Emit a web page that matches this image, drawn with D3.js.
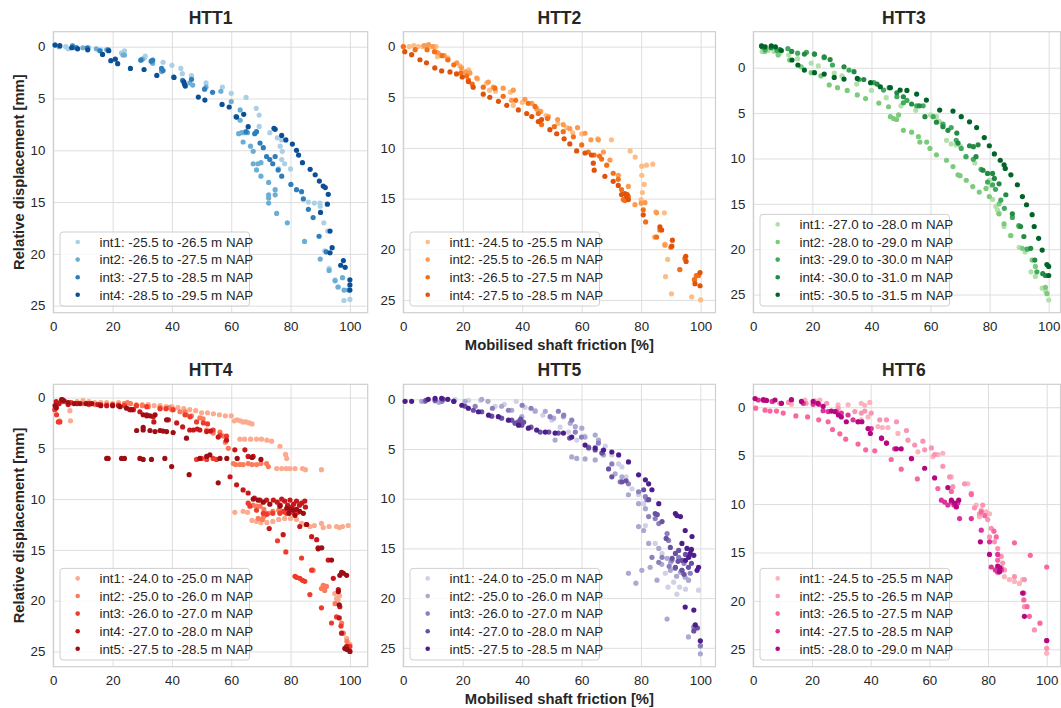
<!DOCTYPE html>
<html><head><meta charset="utf-8">
<script src="https://cdn.jsdelivr.net/npm/d3@7"></script>
<style>
body{margin:0;background:#fff;}
svg{display:block;font-family:"Liberation Sans",Arial,Helvetica,sans-serif;}
</style>
</head><body>
<svg id="chart" width="1061" height="708"></svg>
<script>
// Mobilised shaft friction [%] vs relative displacement [mm], per test and interval
const yTicks = [0, 5, 10, 15, 20, 25];
const xTicks = [0, 20, 40, 60, 80, 100];
const xLabel = "Mobilised shaft friction [%]";
const yLabel = "Relative displacement [mm]";
const titles = ["HTT1", "HTT2", "HTT3", "HTT4", "HTT5", "HTT6"];

const htt1Labels = ["int1: -25.5 to -26.5 m NAP", "int2: -26.5 to -27.5 m NAP", "int3: -27.5 to -28.5 m NAP", "int4: -28.5 to -29.5 m NAP"];
const htt2Labels = ["int1: -24.5 to -25.5 m NAP", "int2: -25.5 to -26.5 m NAP", "int3: -26.5 to -27.5 m NAP", "int4: -27.5 to -28.5 m NAP"];
const htt3Labels = ["int1: -27.0 to -28.0 m NAP", "int2: -28.0 to -29.0 m NAP", "int3: -29.0 to -30.0 m NAP", "int4: -30.0 to -31.0 m NAP", "int5: -30.5 to -31.5 m NAP"];
const htt4Labels = ["int1: -24.0 to -25.0 m NAP", "int2: -25.0 to -26.0 m NAP", "int3: -26.0 to -27.0 m NAP", "int4: -27.0 to -28.0 m NAP", "int5: -27.5 to -28.5 m NAP"];
const htt5Labels = ["int1: -24.0 to -25.0 m NAP", "int2: -25.0 to -26.0 m NAP", "int3: -26.0 to -27.0 m NAP", "int4: -27.0 to -28.0 m NAP", "int5: -27.5 to -28.5 m NAP"];
const htt6Labels = ["int1: -24.5 to -25.5 m NAP", "int2: -25.5 to -26.5 m NAP", "int3: -26.5 to -27.5 m NAP", "int4: -27.5 to -28.5 m NAP", "int5: -28.0 to -29.0 m NAP"];

// [friction %, displacement mm]
const htt1Int1 = [[0.5,-0.2],[4.2,0],[5,0.2],[8,0.1],[12,0.1],[16,0.3],[23,0.6],[24,0.4],[30.7,1.1],[31,0.9],[37,1.5],[40,1.8],[43,2.1],[43.5,2.6],[46.6,2.8],[51.5,3.5],[57,3.9],[60,4.5],[65,4.9],[68.4,5.95],[69.4,6.6],[69.4,7.7],[73,8.3],[75.5,8.8],[77,9.0],[76.5,9.6],[77.2,10.1],[77,10.9],[78,11.3],[76,11.8],[80,11.8],[86,15],[88,15.1],[89.9,15.1],[90,15.4],[91.2,17],[92.5,17.8],[91.5,19.7],[93,21.4],[95,22.5],[96,23.2],[98,24.5],[100,24.4]];
const htt1Int2 = [[2,0],[6.5,-0.1],[7.5,0.1],[10,0.1],[14.5,0.2],[18,0.3],[23.5,0.8],[24,0.8],[30,1.2],[33.5,1.6],[36.5,2.4],[40.5,2.9],[46,3.5],[47,3.7],[51.5,3.9],[56.5,4.3],[60,5.3],[63,6.1],[63,7.1],[62.5,8.4],[63.5,8.3],[64.5,8.3],[65.5,8.3],[64,9.2],[66.5,9.6],[67.4,10.1],[67.4,11.3],[69,11.3],[70,11.2],[68.5,11.9],[70,12.5],[72.6,13.1],[72.6,14.3],[72.6,14.6],[72.6,15.1],[74.8,13.8],[74.8,14.3],[75.3,16.1],[78.9,17],[84.7,18.8],[90,20.5],[93,21.6],[95,22.6],[97.5,22.3],[96,23.2],[98,23.5],[99.4,23.5]];
const htt1Int3 = [[6.5,0],[7.8,0.1],[11.5,0.1],[15.7,0.4],[18.5,0.3],[29.5,1.3],[33,1.4],[33.5,1.3],[36.5,2.1],[37,2.3],[43.6,3.25],[46.6,3.15],[51,4.1],[53.7,4.4],[61.6,6.75],[65,8.2],[67.9,8.4],[68.5,8.2],[69.7,9.3],[70.8,9.75],[71.9,10.6],[73,10.9],[74.8,10.6],[74,11.3],[75.8,11.9],[77,12.5],[80.1,13.3],[82,13.8],[83.7,14],[84.3,14.7],[86,15.7],[87.6,16.5],[89.6,18.3],[92,19.8]];
const htt1Int4 = [[0.6,-0.16],[2.2,-0.1],[6.2,0.1],[8.2,0.2],[11.6,0.3],[16.6,0.74],[18.7,0.39],[19.4,1.35],[20.9,1.2],[21.7,1.64],[26,2.1],[30.6,2.2],[34.9,2.77],[40.7,2.96],[44,3.38],[44.2,3.6],[44.5,3.8],[48.9,4.86],[51.1,5.15],[56.9,5.57],[59.3,5.82],[61.8,6.79],[64.2,6.53],[65.7,7.72],[74.4,7.88],[74.8,7.98],[77,8.56],[78.4,9.0],[80.6,9.4],[82,10.0],[82.7,10.46],[84,11.2],[86.6,11.84],[88.3,12.36],[89.7,12.97],[91,13.45],[91.7,13.6],[92.7,14.25],[92.4,15.2],[90.1,16.0],[93.3,17.8],[94,19.4],[93.3,19.9],[97.8,20.65],[98.4,21.3],[96.9,21.1],[100,22.5],[100,23.0],[100,23.5]];

const htt2Int1 = [[0,0],[2,0],[3.5,-0.1],[5,0],[6.5,0],[8,-0.1],[9.5,0],[11,0],[11.5,1.0],[12,0.7],[15,1.1],[19,1.9],[22,2.3],[25,3.2],[28,3.6],[29,4.3],[31,4.4],[36,4.5],[37,5.8],[40,5.5],[45,6.2],[48,6.8],[52,7.6],[55,8.0],[57,8.5],[60,8.6],[65.4,9.1],[70,9.2],[76.3,10.3],[78,10.9],[80.2,11.8],[81.8,11.7],[83.9,11.6],[80.2,12.7],[81,13.6],[80.4,14.4],[80,15.1],[84.9,16.3],[87.8,16.4],[88,19.5],[88.9,21],[88.2,22.7],[90.2,24.4],[97,24.7],[100,25]];
const htt2Int2 = [[7,-0.1],[8.5,-0.2],[10,0],[11.5,0.6],[13.8,0.9],[15,1.3],[18,1.6],[19.6,2.1],[21,2.5],[22.4,2.6],[24.7,3.1],[28.6,3.5],[30.3,4.0],[33.6,4.1],[37,4.3],[36.4,5.3],[40.9,5.2],[43.2,5.6],[44.8,6.1],[46.2,6.4],[48.8,6.9],[51.9,7.2],[53.8,7.7],[56,8.1],[58.6,8.0],[61.1,8.55],[63.1,9.2],[65.6,9.2],[67.3,10.4],[69.5,11.2],[72.3,12.7],[75.7,13.8],[77.9,15.6],[80,15.45],[81.3,15.4],[85.2,16.4],[84.6,18.8],[88,19.6],[93,22],[98,23],[98.5,22.6]];
const htt2Int3 = [[0,0],[4,0.3],[8,0.3],[10.5,0.5],[13,0.9],[15,1.3],[17,1.8],[19.4,2.6],[21.3,2.9],[21.9,3.3],[23.2,3.7],[26.9,4.0],[30.8,4.1],[33.6,4.9],[37.8,5.3],[42,5.6],[44.3,5.9],[45.4,6.6],[46,7.4],[46.5,7.7],[48.5,7.1],[50.8,7.9],[53.8,8.4],[57.2,8.9],[60,9.7],[62.2,10.4],[64.2,10.7],[66,10.8],[66.7,11.1],[68.4,11.7],[70.6,12.5],[72.3,13.1],[73.4,14.1],[74,15.1],[75.7,14.8],[74.5,15.2],[80.7,16.1],[81.5,17.3],[85.2,18.8],[86.3,18.1],[90,19.8],[93,22],[94.7,20.9],[97.9,23],[98.7,22.6],[99.3,22.6]];
const htt2Int4 = [[0.5,0.5],[2.8,0.8],[5.6,1.3],[7.8,1.6],[10.6,2.1],[12.9,2.4],[15.7,2.5],[17.9,2.7],[19.8,3.0],[21.9,3.45],[23.5,4.0],[26.9,4.7],[29.1,5.0],[32,5.4],[34.8,5.8],[38.7,6.25],[41.5,6.6],[43.2,6.9],[45.4,7.4],[46.5,7.2],[49.3,8.2],[51.6,8.6],[54.1,9.1],[56,9.6],[58.3,10.3],[61.1,10.5],[63.3,10.7],[63.9,11.5],[64.2,12.2],[67.8,12.8],[70.6,13.3],[72.3,13.7],[73.4,14.6],[74.5,14.5],[75.1,14.8],[75.7,15.1],[75.3,14.6],[80.7,16.6],[86.3,17.8],[86.9,18.1],[90.5,19.1],[90.3,19.7],[95,20.7],[95.1,21.2],[99.8,22.3],[99.8,23.6],[98.1,23.4]];

const htt3Int1 = [[3,-1.8],[5,-1.9],[7,-1.8],[9,-1.6],[12,-1.4],[15,-1.0],[19.6,-0.5],[22,-0.2],[27.4,0.6],[30,0.9],[35,1.8],[40,2.5],[45,3.3],[50,4.2],[55,4.7],[60,5.2],[62,5.4],[63,5.9],[64.2,6.3],[65.4,8.0],[67,8.4],[68.7,8.5],[70,8.6],[72,9.8],[75,10.5],[77.9,11.3],[79.9,12.4],[80.5,13.0],[81,14.5],[82.1,15.3],[82.7,15.7],[83,16],[84.9,17.5],[87,18.5],[90,19.8],[92,20.3],[94,22.5],[95.5,23],[97.8,24.3],[99,24.6],[100,25.6]];
const htt3Int2 = [[3.9,-1.8],[8.4,-1.4],[12.3,-0.85],[16.2,-0.1],[19.6,0.55],[22.9,0.9],[25.7,1.9],[28.5,2.2],[31.8,2.5],[35.2,3.0],[38,3.4],[42.5,3.9],[45.8,4.3],[46.4,5.4],[47.5,5.6],[49.2,5.2],[48.5,5.7],[50.8,6.9],[53.6,7.1],[55.9,7.6],[56.4,8.2],[58.7,8.2],[59.8,8.9],[62,9.6],[65.4,10.2],[67.6,10.9],[69.3,11.8],[70,11.9],[72.1,12.4],[74.3,13.1],[76.5,13.7],[78.8,13.3],[79.9,14.2],[83.2,15],[83.2,16.1],[84.9,17.2],[87.2,18.5],[89.9,17.5],[91.1,19.9],[94.4,21.2],[95.5,21.9],[98.9,24.2],[99.4,24.9]];
const htt3Int3 = [[4,-2.0],[8,-1.9],[11.7,-2.1],[15,-1.6],[18,-1.7],[20.7,-1.5],[24,-1.1],[26.8,-0.3],[32.4,0.26],[35.8,1.3],[40.8,1.65],[44.1,2.46],[48.6,3.2],[50.8,3.86],[52,3.6],[55.3,4.2],[57.5,4.2],[60.9,5.4],[64.2,6.2],[67,6.6],[68.7,8],[70.4,8.9],[72,9.8],[74.5,10.1],[77.1,11.2],[79.3,12.6],[81,12.9],[82,13.4],[83.8,14.6],[85,15.5],[87.7,16.5],[89.9,17.4],[92.7,20],[96,22.5]];
const htt3Int4 = [[3,-2.3],[6,-2.2],[9,-2.0],[13,-1.8],[17.3,-1.5],[20.7,-1.5],[24,-1.2],[26,-0.9],[30.7,-0.1],[34.1,0.44],[37.4,1.3],[41.9,1.8],[46,2.2],[48.6,2.76],[50.8,3.2],[53.6,4.0],[56.2,4.2],[58.1,5.4],[62,6.0],[64.2,6.5],[65.9,6.9],[68.9,7.2],[69.3,8.3],[73.2,8.6],[74.5,8.7],[76.1,8.5],[75.4,9.8],[77.7,11.3],[79.3,11.65],[81,11.65],[81.6,12.2],[83.2,12.8],[85.5,14],[87.7,16.1],[90.5,17.5],[91.6,18.6],[93.9,19.9],[95.3,21.2],[98,22.7],[98.9,22.9]];
const htt3Int5 = [[2.8,-2.4],[4,-2.3],[6.1,-2.4],[7.5,-2.3],[9.5,-1.9],[13.1,-0.85],[15.1,-0.3],[17.3,0.26],[20.7,0.55],[24,0.7],[27.4,1.07],[30.7,1.25],[35.2,1.18],[39.7,1.65],[43,2.1],[46.4,2.2],[49.7,2.46],[52,2.5],[55.3,2.9],[58.6,3.57],[63.1,4.67],[67.6,4.78],[70.4,5.4],[73.2,5.96],[75.6,6.6],[78.2,7.7],[79.9,8.6],[81.6,9.5],[83.6,10.2],[84.9,10.7],[85.3,11.1],[87.2,11.8],[89.4,12.9],[91.1,14.2],[92.5,15.1],[94.4,16.2],[95.1,17.5],[96.6,18.8],[97.8,20.1],[99.4,21.7],[100,21.9],[100,22.9]];

const htt4Int1 = [[1,0.5],[3,0.3],[5,0.5],[5.6,1.3],[2.2,2.3],[5.8,2.3],[8,0.4],[10,0.3],[12,0.4],[14,0.5],[16,0.5],[18,0.5],[20,0.6],[22,0.5],[24,0.6],[26,0.6],[28,0.7],[30,0.7],[32,0.7],[34,0.8],[36,0.8],[38,0.9],[40,0.9],[42,1.0],[44,1.1],[46,1.2],[48,1.3],[50,1.5],[52,1.5],[54,1.6],[56,1.7],[58,1.8],[60,1.8],[62,2.2],[61,2.3],[63,2.3],[64,2.4],[65,2.4],[66,2.5],[67,2.6],[62.9,4.1],[64.5,4.1],[66.5,4.1],[68.5,4.1],[70.2,4.1],[72,4.2],[73.6,4.3],[76.4,4.8],[78.3,5.6],[78.7,6.0],[75.3,7.0],[77,7.0],[78.5,7.0],[79.8,7.0],[81.5,7.0],[84,7.0],[85,7.1],[90.4,7.1],[61.2,11.3],[64,11.2],[65.5,11.3],[67,12.1],[68.5,12.2],[70,12.3],[72,12.3],[74,12.2],[76,12.0],[78,11.9],[80,11.9],[82,12.0],[83.7,12.4],[85,12.5],[86.5,12.7],[88,12.6],[90.4,12.4],[91,12.8],[93,12.7],[95.5,12.7],[96.5,12.8],[97.5,12.7],[99.4,12.6],[94.9,19.3],[95.5,19.8],[96,19.9],[96.5,19.5],[98.9,23.7],[100,24.3],[100,25]];
const htt4Int2 = [[1,1],[4,0.4],[6,0.5],[10,0.6],[14,0.7],[18,0.7],[22,0.7],[24,0.6],[25,0.5],[26,0.6],[28,0.8],[30,0.8],[32,0.9],[36,1.0],[39,1.0],[40,1.2],[42.7,1.4],[44.4,1.4],[44.9,1.7],[46.6,1.8],[49.4,2.0],[50.5,2.1],[51.7,3.2],[53.9,3.5],[56.2,3.4],[57.3,3.8],[58,4.4],[59,5.0],[60.7,6.5],[61.5,6.6],[62.9,6.6],[64,6.6],[65.7,6.5],[67,6.6],[68.5,6.6],[70,6.5],[71.9,6.5],[72.5,6.8],[67.4,10.6],[68.5,10.7],[69.7,10.7],[71,11.0],[71.9,11.4],[69.1,11.9],[70.5,12.0],[71,11.7],[72.5,11.4],[74,11.2],[76,11.1],[78,11.3],[87.6,17],[91.6,18.6],[90.4,18.8],[91,18.5],[92.1,18.6],[91.5,19],[95,20.3],[97.2,22.2],[97.8,23.2],[99,24]];
const htt4Int3 = [[1.1,1.7],[1.7,2.4],[2.2,2.4],[0.5,1.2],[3.4,0.4],[6,0.5],[8,0.6],[12,0.7],[16,0.7],[20,0.7],[24,0.8],[28,0.8],[31.5,0.9],[36,1.1],[38,1.1],[40.4,1.2],[44.4,1.7],[46.1,1.9],[48.3,2.4],[50.6,2.5],[52,2.6],[53.9,3.2],[56.2,3.7],[58.4,3.8],[48.3,6.1],[50,6.0],[51.7,6.1],[53.9,6.0],[55,6.1],[65.7,10.4],[66.3,10.7],[68.5,11.1],[70.8,11.4],[72,11.5],[74,11.4],[76.4,11.4],[78.7,11.4],[81.2,11.4],[82.5,11.3],[79.5,11.1],[77.5,11.2],[75.6,14.1],[78.4,15.2],[83.7,15.8],[81.5,17.6],[82,17.7],[83.1,17.8],[84,18],[84.8,18.1],[87.1,17],[86.5,19.4],[90.4,20.7],[93.8,22.2],[95.5,21.6],[97,22.5],[100,24.5]];
const htt4Int4 = [[1,0.4],[2,0.6],[3,0.2],[5,0.7],[8,0.6],[12,0.6],[15,0.7],[18,0.8],[22,0.8],[25.8,1.2],[27,1.2],[29.2,1.4],[31.5,1.7],[33.7,1.9],[33.9,2.4],[38.8,2.2],[41.6,2.5],[43.6,2.9],[46,3.2],[47.2,3.2],[48.5,3.1],[49.4,3.2],[51.7,3.35],[53,3.3],[55.6,3.9],[58.4,4.2],[61.2,5.15],[64.6,5.15],[65.7,5.8],[67.4,5.8],[59.6,7.8],[61.8,8.6],[64,9.1],[65.7,9.4],[67.8,9.9],[69.7,10.1],[71.9,10.1],[74.2,10.1],[75.5,10.3],[77,10.0],[78,10.2],[79.8,10.1],[81,10.5],[82,10.2],[83,10.6],[83.7,10.4],[84.8,10.2],[85,10.8],[80.5,10.8],[79,10.6],[76.5,10.6],[72.8,12.9],[77.5,13.5],[83.1,12.7],[85.4,12.5],[87.1,13.7],[88.8,14],[89.3,14.8],[92.7,16],[94.4,17.8],[96.1,18.9],[96.6,20.6],[96.4,21.7],[97.2,23.2],[98.9,24.5]];
const htt4Int5 = [[0.6,0.8],[1,1.0],[2.8,0.2],[3.5,0.3],[5,0.5],[7,0.6],[9,0.6],[11,0.6],[13,0.6],[16,0.8],[20,0.8],[22.5,0.9],[24.7,1.05],[26.4,1.2],[30.3,1.7],[31.5,1.8],[32.6,1.8],[34.3,1.7],[38.2,2.2],[44.9,4],[28.1,3.25],[30.3,3.2],[32.6,3.25],[34.3,3.35],[36,3.25],[37,3.3],[38.2,3.35],[40.4,3.45],[30.3,2.95],[18,6],[18.5,6],[23,6],[24,6],[29.2,6],[30.3,6.1],[33.1,6.1],[37.6,6],[39.9,6.8],[45.8,7.6],[55.6,8.4],[49.4,6],[51.7,5.8],[52.8,5.65],[56.2,6.0],[58.5,6.0],[62,6.0],[67,5.9],[70,6.1],[67.4,10],[69,10.1],[70.8,10.3],[73,10.5],[76.4,10.7],[78.7,10.9],[80,11.0],[80.9,11.1],[82,11.0],[83.1,11.2],[84.3,11.4],[81.5,11.6],[79.5,11.4],[85.4,12.5],[89.3,14.9],[90.5,14.8],[93.8,16],[96.6,17.5],[97.2,17.2],[97.8,17.3],[98.9,17.5],[96.1,19.1],[96.4,20.4],[98.3,24.7],[99,24.8],[100,25]];

const htt5Int1 = [[10.7,0.2],[17.4,0],[22,0.1],[26,0.1],[30.9,0.7],[34,0.5],[38,0.2],[41,0.8],[44.4,1.1],[47,1.6],[50,2.1],[52.8,2.8],[55.6,3.3],[58.4,4.1],[61,3.7],[64.6,4.8],[66.9,5.3],[68,4.7],[70.2,5.6],[72.5,6.5],[73.6,6.8],[75,7.8],[77,9],[79.2,9.6],[80.9,10.5],[81.5,12.7],[84.8,14.5],[87.1,15.5],[88.2,17.5],[89.1,18.9],[92.1,19.6],[95,19.1],[99.4,19.2],[96.1,18.2],[91,18.4],[93,18.9]];
const htt5Int2 = [[6.2,0.2],[12,0.3],[20.8,0.2],[26.4,0],[28.5,0.2],[33.1,0.7],[36.5,1.1],[39.9,1.75],[44.4,1.2],[47.8,1.2],[50.6,1.9],[53.9,1.75],[56.2,2.4],[57.9,2.75],[60.1,2.9],[61.2,3.8],[64.6,3.6],[65.7,4.1],[51.1,4.1],[56.7,5.8],[58.4,5.95],[61.2,6],[64.6,6.1],[67.4,5.6],[71.3,7.5],[73.6,7.8],[75.8,9.6],[79.2,10.5],[81.5,11],[79.2,12.8],[80.9,13.2],[82.6,14.5],[86,15],[88.8,16],[89.9,17.2],[93.3,17.4],[94.9,17.9],[96,18.2],[75.8,17.5],[78.3,18.5],[80.3,17.2],[83.1,16.9],[85.4,18.2],[88.8,22.1],[96,23.9],[100,25.6],[100,24.8],[87,16.6],[90,16.4],[92,17.8]];
const htt5Int3 = [[7.3,0.2],[13,0.2],[24.2,0.7],[30,0.9],[35.4,1.1],[40,0.6],[43,0.9],[49.4,1.75],[52.2,1.2],[54,1.6],[56.7,2.1],[57.9,3.3],[60,3.8],[62.4,4.8],[65.7,4.4],[66.9,5.4],[70.2,6.5],[73,8.3],[75.8,8.5],[79.2,9.3],[81.5,9.8],[82,10.1],[82.6,11.8],[84.8,12],[86,12.5],[88.8,13.5],[89.3,14.2],[83.7,15.9],[86,16.4],[87.1,15.9],[90.4,16.2],[92.7,15.9],[93.8,17.2],[96.6,17.5],[91.5,17.0],[89.5,16.8],[94.5,16.5],[97.8,22.9],[100,24.8]];
const htt5Int4 = [[7.6,0.1],[10.7,0.1],[13.5,0],[17,0.2],[20.8,0.7],[23.6,1.1],[26.4,1.25],[29.8,1.7],[33.1,1.9],[36.5,2.1],[37.6,2.4],[38.8,2.25],[39.9,2.6],[39.5,2.0],[40.5,2.3],[43,2.8],[46.1,3.3],[49,3.3],[52.2,3.4],[56,3.9],[62.4,4.9],[64.6,5.1],[66.9,5.4],[69.1,7],[70.2,7.8],[73.6,8.3],[75,8.2],[80.9,9.1],[82.6,10.1],[84.8,11.5],[85.5,11.6],[87.1,12.3],[88.5,14],[89.9,14.9],[91.6,15.5],[92.7,15.2],[93.8,16.2],[91.6,16.9],[93.8,17.2],[96,16.9],[97,16.5],[90.5,16.0],[92.5,16.3],[95,15.6],[94.5,17.6],[97.8,23.3],[99,23]];
const htt5Int5 = [[0.6,0.2],[2.8,0.2],[8.4,0],[10.7,-0.1],[12.9,-0.1],[15,0],[17,0.2],[19.7,0.6],[21.9,0.9],[25.3,1.25],[28.7,1.6],[32,1.75],[35.4,2.1],[38.8,2.6],[42.1,2.9],[44.9,3.1],[47.8,3.3],[51.1,3.4],[53.9,3.4],[56.7,3.8],[61.2,4.6],[64.6,4.9],[67.4,5.1],[70.2,5.3],[72.5,5.6],[75.8,6.3],[79.2,7.6],[81.5,8.1],[82.6,8.5],[83.7,9.1],[86,10.5],[91.6,11.5],[92.1,11.7],[93.3,11.8],[94.9,13.2],[97.2,13.8],[93.8,14.5],[95.5,15],[96.6,15.5],[97.8,15.7],[96.1,15.9],[95,16.2],[97,15.1],[99.4,16.9],[98.9,17.2],[94.9,20.9],[97.8,21.2],[98.3,22.7],[100,24.3]];

const htt6Int1 = [[4,-0.75],[6.2,-0.6],[9,-0.4],[13,-0.3],[17.6,-0.75],[21,-0.65],[22.7,-0.75],[28.9,-0.25],[32.3,-0.25],[36.8,-0.4],[38,-0.2],[39.7,-0.5],[36.8,1.3],[39.1,1.0],[42.5,2.0],[44,2.1],[45.9,2.1],[49.3,2.7],[56.1,4.6],[61.2,5.1],[62.9,4.9],[64.6,4.75],[67.5,7.2],[73.1,7.9],[76,10.1],[77.7,10.6],[79.4,10.8],[77.1,11.3],[80.5,11],[83.3,17.1],[85.6,17.5],[87.3,17.8],[89,18],[90.7,18.2],[91.8,17.8],[100,25.4]];
const htt6Int2 = [[12,-0.5],[18,-0.4],[25,-0.4],[28.9,0.1],[34.6,0.45],[36.8,0.6],[38,0.4],[40.2,0.6],[43.1,1.3],[45.4,1.3],[48.8,1.5],[52.2,2.4],[52.7,3.4],[55,3.9],[57.8,3.5],[58.4,4.4],[60.7,4.2],[61.8,4.9],[64.6,6.1],[66.9,7.2],[68,8.2],[72,7.9],[74.3,8.9],[75.4,10.4],[78.2,10.1],[77.1,11],[79.9,11.6],[80.5,13.4],[81.1,12.5],[82.2,13.9],[83.3,14.6],[84.5,15.4],[85,16.1],[85.6,16.8],[89,17.5],[92.4,17.8],[92.4,20.6],[95.8,23],[100,24.9]];
const htt6Int3 = [[0.8,0.1],[4,0.3],[5.7,0.4],[7.9,0.4],[10.2,0.6],[14.5,0.9],[18.5,1.0],[22.3,1.3],[25.5,1.5],[27,2.3],[29.5,2.75],[31.5,3.3],[35.7,3.8],[38.3,4.4],[41.4,4.5],[47,5.4],[50.4,6.4],[55.9,7.4],[62.9,8.4],[67.5,8.7],[74.3,9],[77.7,10.8],[78.9,11.2],[82,12.8],[82.8,13.4],[83.3,15.8],[84.5,16.6],[89,14],[94.4,15.3],[100,16.5],[92.2,19.2],[92.2,19.9],[93.3,20.6],[94.1,21.6],[97.7,22.3]];
const htt6Int4 = [[1.7,-0.75],[3.5,-0.7],[6.5,-0.6],[9.5,-0.4],[13,-0.75],[17,-0.4],[20.4,-0.3],[22.3,-0.3],[23.8,0.35],[25.5,0.45],[28.3,0.45],[30,0.6],[32.3,0.8],[34,1.3],[35.7,1.5],[40.2,2.2],[43.7,3.2],[45.4,3.7],[48.2,4.3],[53.9,5.3],[64.1,9.6],[65.2,9.8],[66.3,10.1],[67.5,9.8],[68.4,10.1],[69.7,9.9],[70.3,11.5],[74.3,11.5],[77.7,12.7],[80.5,13.9],[83.3,15.2],[81.1,16.5],[82.5,16.8],[83.3,17],[84.5,16.8],[100,24.1]];
const htt6Int5 = [[0.6,-0.9],[3.4,-0.8],[4.5,-0.7],[7.4,-0.75],[9.6,-0.4],[13,-0.8],[16.4,-0.6],[20.4,-0.6],[22,-0.4],[23.8,-0.1],[26.6,0.4],[27.8,0.45],[29,0.8],[30,1],[31.7,1.5],[35.7,1.5],[37,1.5],[39.1,2.2],[39.9,2.7],[43.7,3.2],[45.4,3.7],[48.8,4.3],[50.4,4.3],[53.9,5.3],[58.4,6.3],[61.8,7.3],[66.3,8.3],[67.5,9.6],[68.6,9.9],[69.2,10.3],[70,9.6],[77.4,13.9],[80.5,15.2],[83.3,16.4],[83.9,17],[84,16.6],[91.8,19.2],[92.4,21.6],[100,24.1]];

// sequential palettes, light to dark
const bluesPal = ["#abcfe6", "#6aaed6", "#2f7ebc", "#0b4f97"];
const orangesPal = ["#fdbd84", "#fd9a4e", "#f3701b", "#e0530a"];
const greensPal = ["#b2e0ab", "#7ccb7c", "#41ab5d", "#238b45", "#006428"];
const redsPal = ["#fcab8f", "#fb7b5b", "#ef3b2c", "#c8171c", "#9e0d14"];
const purplesPal = ["#d0d1e6", "#aba8d1", "#8b80bd", "#6a51a3", "#4f1d8b"];
const pinksPal = ["#fbb4bd", "#f995b3", "#f768a1", "#dd3497", "#b40882"];

const panels = [
  {title: titles[0], series: [htt1Int1, htt1Int2, htt1Int3, htt1Int4], labels: htt1Labels, colors: bluesPal,
   box: {l: 53.3, r: 367.7, t: 31.7, b: 312.7}, xMax: 106, yDom: [-1.45, 25.68]},
  {title: titles[1], series: [htt2Int1, htt2Int2, htt2Int3, htt2Int4], labels: htt2Labels, colors: orangesPal,
   box: {l: 403.3, r: 715.5, t: 31.7, b: 312.7}, xMax: 105, yDom: [-1.47, 26.26]},
  {title: titles[2], series: [htt3Int1, htt3Int2, htt3Int3, htt3Int4, htt3Int5], labels: htt3Labels, colors: greensPal,
   box: {l: 753.3, r: 1060.5, t: 31.7, b: 312.7}, xMax: 104, yDom: [-3.97, 27.0]},
  {title: titles[3], series: [htt4Int1, htt4Int2, htt4Int3, htt4Int4, htt4Int5], labels: htt4Labels, colors: redsPal,
   box: {l: 53.3, r: 367.7, t: 384.3, b: 666.7}, xMax: 106, yDom: [-1.3, 26.5]},
  {title: titles[4], series: [htt5Int1, htt5Int2, htt5Int3, htt5Int4, htt5Int5], labels: htt5Labels, colors: purplesPal,
   box: {l: 403.3, r: 715.5, t: 384.3, b: 666.7}, xMax: 105.1, yDom: [-1.51, 26.9]},
  {title: titles[5], series: [htt6Int1, htt6Int2, htt6Int3, htt6Int4, htt6Int5], labels: htt6Labels, colors: pinksPal,
   box: {l: 753.3, r: 1060.5, t: 384.3, b: 666.7}, xMax: 104.7, yDom: [-2.37, 26.8]}
];

const svg = d3.select("#chart");
const textCol = "#262626";
const gridCol = "#dedede";
const frameCol = "#cfcfcf";
const fontFam = "'Liberation Sans', Arial, sans-serif";

panels.forEach((p, pi) => {
  const {l, r, t, b} = p.box;
  const x = d3.scaleLinear().domain([0, p.xMax]).range([l, r]);
  const y = d3.scaleLinear().domain(p.yDom).range([t, b]);
  const g = svg.append("g");

  // grid + tick labels
  const xa = g.append("g").attr("transform", `translate(0,${b})`)
    .call(d3.axisBottom(x).tickValues(xTicks).tickSizeInner(-(b - t)).tickSizeOuter(0).tickPadding(9));
  const ya = g.append("g").attr("transform", `translate(${l},0)`)
    .call(d3.axisLeft(y).tickValues(yTicks).tickSizeInner(-(r - l)).tickSizeOuter(0).tickPadding(8));
  [xa, ya].forEach(a => {
    a.select(".domain").remove();
    a.selectAll(".tick line").attr("stroke", gridCol).attr("stroke-width", 1);
    a.selectAll(".tick text").attr("fill", textCol).attr("font-size", "13.3px").attr("font-family", fontFam);
  });

  // frame
  g.append("rect").attr("x", l).attr("y", t).attr("width", r - l).attr("height", b - t)
    .attr("fill", "none").attr("stroke", frameCol).attr("stroke-width", 1.2);

  // points, lighter intervals first
  p.series.forEach((s, si) => {
    g.append("g").selectAll("circle").data(s).join("circle")
      .attr("cx", d => x(d[0])).attr("cy", d => y(d[1])).attr("r", 2.6)
      .attr("fill", p.colors[si]);
  });

  // title
  g.append("text").attr("x", (l + r) / 2 - (pi % 3 === 2 ? 3 : 0)).attr("y", t - 8)
    .attr("text-anchor", "middle").attr("font-size", "17.5px").attr("font-weight", "bold")
    .attr("fill", textCol).text(p.title);

  // legend
  const n = p.labels.length;
  const lx = l + 6.7, lh = 17.6 * n + 3.6, ly = b - 6.7 - lh;
  const lg = g.append("g");
  lg.append("rect").attr("x", lx).attr("y", ly).attr("width", 189.5).attr("height", lh)
    .attr("rx", 3).attr("fill", "#fff").attr("fill-opacity", 0.8)
    .attr("stroke", frameCol).attr("stroke-width", 1);
  p.labels.forEach((lab, i) => {
    const cy = ly + 10 + 17.6 * i;
    lg.append("circle").attr("cx", lx + 17.7).attr("cy", cy).attr("r", 2.3).attr("fill", p.colors[i]);
    lg.append("text").attr("x", lx + 39.5).attr("y", cy).attr("dy", "0.36em")
      .attr("font-size", "13.3px").attr("fill", textCol).text(lab);
  });
});

// shared axis titles
const midCol = (panels[1].box.l + panels[1].box.r) / 2;
[panels[1], panels[4]].forEach(p => {
  svg.append("text").attr("x", midCol).attr("y", p.box.b + 37)
    .attr("text-anchor", "middle").attr("font-size", "14.8px").attr("font-weight", "bold")
    .attr("fill", textCol).text(xLabel);
});
[panels[0], panels[3]].forEach(p => {
  const cy = (p.box.t + p.box.b) / 2;
  svg.append("text").attr("transform", `translate(24,${cy}) rotate(-90)`)
    .attr("text-anchor", "middle").attr("font-size", "14.8px").attr("font-weight", "bold")
    .attr("fill", textCol).text(yLabel);
});
</script>
</body></html>
